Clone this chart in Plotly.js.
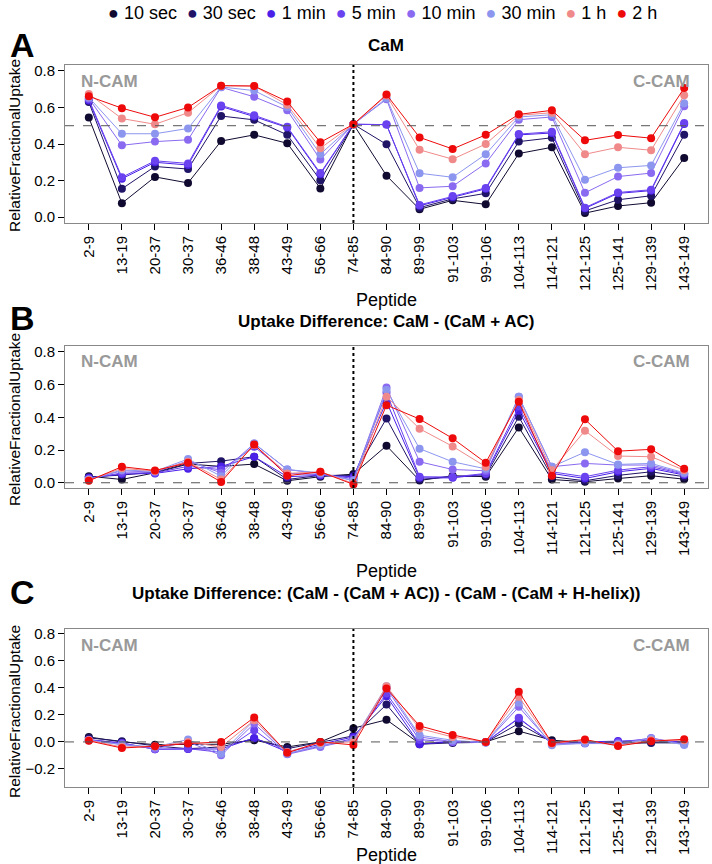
<!DOCTYPE html>
<html>
<head>
<meta charset="utf-8">
<script src="https://cdn.plot.ly/plotly-3.0.1.min.js"></script>
<style>
  html, body { margin: 0; padding: 0; background: #fff; }
  #plot { width: 712px; height: 864px; }
</style>
</head>
<body>
<div id="plot"></div>
<script>
// Peptides on the x axis
const peptides = ['2-9', '13-19', '20-37', '30-37', '36-46', '38-48', '43-49', '56-66', '74-85',
    '84-90', '89-99', '91-103', '99-106', '104-113', '114-121', '121-125', '125-141', '129-139', '143-149'];

const timepoints = ['10 sec', '30 sec', '1 min', '5 min', '10 min', '30 min', '1 h', '2 h'];

// Panel A: CaM relative fractional uptake, one row per timepoint
const uptakeCaM = [
    [0.545, 0.076, 0.22, 0.187, 0.416, 0.45, 0.404, 0.157, 0.508, 0.227, 0.043, 0.092, 0.07, 0.348, 0.382, 0.022, 0.061, 0.079, 0.324],
    [0.629, 0.155, 0.277, 0.263, 0.553, 0.532, 0.45, 0.202, 0.508, 0.398, 0.052, 0.10, 0.13, 0.413, 0.434, 0.034, 0.095, 0.117, 0.45],
    [0.638, 0.21, 0.30, 0.285, 0.605, 0.55, 0.49, 0.235, 0.508, 0.506, 0.062, 0.11, 0.155, 0.45, 0.46, 0.048, 0.13, 0.145, 0.51],
    [0.645, 0.218, 0.308, 0.294, 0.611, 0.557, 0.494, 0.241, 0.508, 0.506, 0.067, 0.115, 0.16, 0.454, 0.467, 0.052, 0.135, 0.15, 0.515],
    [0.65, 0.393, 0.413, 0.423, 0.71, 0.658, 0.584, 0.315, 0.508, 0.645, 0.16, 0.169, 0.294, 0.533, 0.548, 0.133, 0.222, 0.241, 0.607],
    [0.655, 0.456, 0.456, 0.485, 0.712, 0.692, 0.602, 0.344, 0.508, 0.65, 0.24, 0.218, 0.344, 0.548, 0.56, 0.205, 0.27, 0.283, 0.623],
    [0.674, 0.539, 0.508, 0.571, 0.719, 0.717, 0.614, 0.377, 0.508, 0.665, 0.368, 0.317, 0.40, 0.557, 0.571, 0.344, 0.382, 0.366, 0.667],
    [0.661, 0.596, 0.546, 0.60, 0.719, 0.717, 0.632, 0.409, 0.508, 0.67, 0.436, 0.373, 0.45, 0.562, 0.584, 0.42, 0.449, 0.432, 0.706]
];

// Panel B: CaM - (CaM + AC)
const diffAC = [
    [0.04, 0.02, 0.061, 0.114, 0.10, 0.114, 0.012, 0.037, 0.053, 0.226, 0.014, 0.043, 0.037, 0.338, 0.02, 0.006, 0.026, 0.043, 0.022],
    [0.035, 0.047, 0.065, 0.118, 0.132, 0.159, 0.02, 0.045, 0.045, 0.393, 0.02, 0.037, 0.043, 0.403, 0.037, 0.012, 0.045, 0.067, 0.037],
    [0.03, 0.053, 0.057, 0.085, 0.10, 0.159, 0.037, 0.045, 0.037, 0.495, 0.03, 0.03, 0.053, 0.44, 0.057, 0.026, 0.067, 0.088, 0.047],
    [0.025, 0.06, 0.06, 0.10, 0.08, 0.22, 0.057, 0.05, 0.027, 0.55, 0.037, 0.035, 0.057, 0.465, 0.067, 0.037, 0.077, 0.098, 0.053],
    [0.02, 0.073, 0.065, 0.134, 0.06, 0.24, 0.081, 0.055, 0.016, 0.582, 0.128, 0.081, 0.073, 0.525, 0.098, 0.118, 0.108, 0.108, 0.057],
    [0.02, 0.078, 0.07, 0.145, 0.04, 0.24, 0.081, 0.06, 0.012, 0.566, 0.208, 0.128, 0.085, 0.525, 0.098, 0.187, 0.112, 0.118, 0.061],
    [0.015, 0.088, 0.072, 0.128, 0.02, 0.23, 0.057, 0.067, -0.004, 0.525, 0.33, 0.222, 0.098, 0.505, 0.077, 0.318, 0.163, 0.159, 0.077],
    [0.012, 0.098, 0.075, 0.122, 0.005, 0.234, 0.043, 0.067, -0.01, 0.474, 0.389, 0.271, 0.122, 0.495, 0.043, 0.387, 0.193, 0.204, 0.085]
];

// Panel C: (CaM - (CaM + AC)) - (CaM - (CaM + H-helix))
const diffACHelix = [
    [0.037, 0.0, -0.02, -0.017, -0.017, 0.013, -0.037, 0.0, 0.102, 0.164, -0.012, 0.0, 0.0, 0.08, 0.013, -0.005, -0.005, 0.0, 0.0],
    [0.03, 0.005, -0.03, -0.05, -0.037, 0.025, -0.05, -0.005, 0.045, 0.277, -0.017, -0.007, -0.003, 0.137, 0.0, -0.007, -0.012, -0.007, -0.007],
    [0.017, -0.007, -0.054, -0.052, -0.052, 0.03, -0.074, -0.017, 0.037, 0.339, -0.017, 0.002, 0.0, 0.174, -0.007, 0.0, 0.007, 0.012, 0.0],
    [0.015, -0.01, -0.054, -0.05, -0.077, 0.087, -0.087, -0.03, 0.025, 0.359, 0.017, 0.0, -0.003, 0.179, -0.012, -0.007, 0.0, 0.025, -0.012],
    [0.012, -0.017, -0.05, 0.0, -0.099, 0.136, -0.092, -0.037, 0.017, 0.396, 0.037, 0.002, -0.005, 0.26, -0.017, -0.012, -0.012, 0.03, -0.017],
    [0.012, -0.02, -0.037, 0.018, -0.087, 0.161, -0.087, -0.025, 0.012, 0.413, 0.05, 0.012, -0.005, 0.29, -0.025, -0.007, -0.017, 0.025, -0.022],
    [0.012, -0.037, -0.032, 0.0, -0.037, 0.161, -0.074, -0.007, 0.0, 0.413, 0.099, 0.037, 0.0, 0.334, -0.012, 0.012, -0.025, 0.012, 0.012],
    [0.008, -0.045, -0.032, -0.012, 0.0, 0.181, -0.081, 0.0, -0.022, 0.396, 0.119, 0.052, 0.0, 0.372, -0.007, 0.018, -0.03, 0.005, 0.02]
];

const colors = ['#110a30', '#1f1466', '#4a1fe8', '#6a42f0', '#8a6af0', '#8c96ee', '#f08a8a', '#ee0a0a'];
const FONT = 'Liberation Sans, Arial, Helvetica, sans-serif';
const xIdx = peptides.map((p, i) => i + 1);

const traces = [];
function addPanel(rows, n) {
    rows.forEach((vals, k) => {
        traces.push({
            x: xIdx, y: vals,
            xaxis: 'x' + (n === 1 ? '' : n), yaxis: 'y' + (n === 1 ? '' : n),
            mode: 'lines+markers', type: 'scatter',
            line: { color: colors[k], width: 1 },
            marker: { color: colors[k], size: 8 },
            name: timepoints[k], showlegend: false, hoverinfo: 'skip'
        });
    });
}
addPanel(uptakeCaM, 1);
addPanel(diffAC, 2);
addPanel(diffACHelix, 3);

// pixel -> paper coords (margins l=65, r=4, t=0, b=0)
const L = 65, W = 643, H = 864;
const px = p => (p - L) / W;
const py = p => 1 - p / H;

function xAxis(n) {
    return {
        domain: [0, 1], anchor: 'y' + (n === 1 ? '' : n), automargin: false,
        range: [0.28, 19.72], tickvals: xIdx, ticktext: peptides, tickangle: -90,
        ticks: 'outside', ticklen: 6, tickcolor: '#000', showgrid: false, zeroline: false,
        showline: true, mirror: true, linecolor: '#888', linewidth: 1,
        tickfont: { family: FONT, size: 15, color: '#000' }
    };
}
function yAxis(n, dom, range, tickvals) {
    return {
        domain: dom, anchor: 'x' + (n === 1 ? '' : n), automargin: false,
        range: range, tickvals: tickvals, tickformat: '.1f',
        ticks: 'outside', ticklen: 6, tickcolor: '#000', showgrid: false, zeroline: false,
        showline: true, mirror: true, linecolor: '#888', linewidth: 1,
        tickfont: { family: FONT, size: 15, color: '#000' }
    };
}

const domA = [py(223), py(65)], domB = [py(488), py(346)], domC = [py(787), py(629)];

const shapes = [];
[['x', 'y', 0.5], ['x2', 'y2', 0], ['x3', 'y3', 0]].forEach(([xa, ya, h]) => {
    shapes.push({ type: 'line', xref: xa + ' domain', yref: ya, x0: 0, x1: 1, y0: h, y1: h,
        line: { color: '#555', width: 1, dash: 'dash' } });
    shapes.push({ type: 'line', xref: xa, yref: ya + ' domain', x0: 9, x1: 9, y0: 0, y1: 1,
        line: { color: '#000', width: 2, dash: 'dot' } });
});

const annotations = [];
function label(text, x, y, size, opts) {
    annotations.push(Object.assign({ text: text, xref: 'paper', yref: 'paper', x: px(x), y: py(y),
        xanchor: 'center', yanchor: 'middle',
        showarrow: false, font: { family: FONT, size: size, color: '#000' } }, opts || {}));
}

// panel letters and titles
label('<b>A</b>', 22, 45, 34);
label('<b>B</b>', 22, 318, 34);
label('<b>C</b>', 22, 592, 34);
label('<b>CaM</b>', 386, 46, 17);
label('<b>Uptake Difference: CaM - (CaM + AC)</b>', 386, 322, 17);
label('<b>Uptake Difference: (CaM - (CaM + AC)) - (CaM - (CaM + H-helix))</b>', 386, 593, 17);

// axis titles
[[146, 300], [420, 571], [712, 855]].forEach(([yc, yp]) => {
    label('RelativeFractionalUptake', 14, yc, 15.5, { textangle: -90 });
    label('Peptide', 386, yp, 18);
});

// N-CAM / C-CAM tags
['', '2', '3'].forEach(s => {
    const grey = { family: FONT, size: 17, color: '#999' };
    annotations.push({ text: '<b>N-CAM</b>', xref: 'x' + s + ' domain', yref: 'y' + s + ' domain',
        x: 0.022, y: 0.97, xanchor: 'left', yanchor: 'top', showarrow: false, font: grey });
    annotations.push({ text: '<b>C-CAM</b>', xref: 'x' + s + ' domain', yref: 'y' + s + ' domain',
        x: 0.975, y: 0.97, xanchor: 'right', yanchor: 'top', showarrow: false, font: grey });
});

// legend row across the top
const legendText = timepoints.map((t, k) =>
    '<span style="color:' + colors[k] + '">●</span> ' + t).join('  ');
annotations.push({ text: legendText, xref: 'paper', yref: 'paper', x: px(382), y: py(13),
    xanchor: 'center', yanchor: 'middle',
    showarrow: false, font: { family: FONT, size: 18, color: '#000' } });

const layout = {
    width: 712, height: 864,
    margin: { l: L, r: 712 - L - W, t: 0, b: 0, pad: 0, autoexpand: false },
    paper_bgcolor: '#fff', plot_bgcolor: '#fff',
    showlegend: false,
    xaxis: xAxis(1), xaxis2: xAxis(2), xaxis3: xAxis(3),
    yaxis: yAxis(1, domA, [-0.032, 0.832], [0, 0.2, 0.4, 0.6, 0.8]),
    yaxis2: yAxis(2, domB, [-0.032, 0.835], [0, 0.2, 0.4, 0.6, 0.8]),
    yaxis3: yAxis(3, domC, [-0.334, 0.837], [-0.2, 0, 0.2, 0.4, 0.6, 0.8]),
    shapes: shapes,
    annotations: annotations
};

Plotly.newPlot('plot', traces, layout, { displayModeBar: false, staticPlot: true });
</script>
</body>
</html>
